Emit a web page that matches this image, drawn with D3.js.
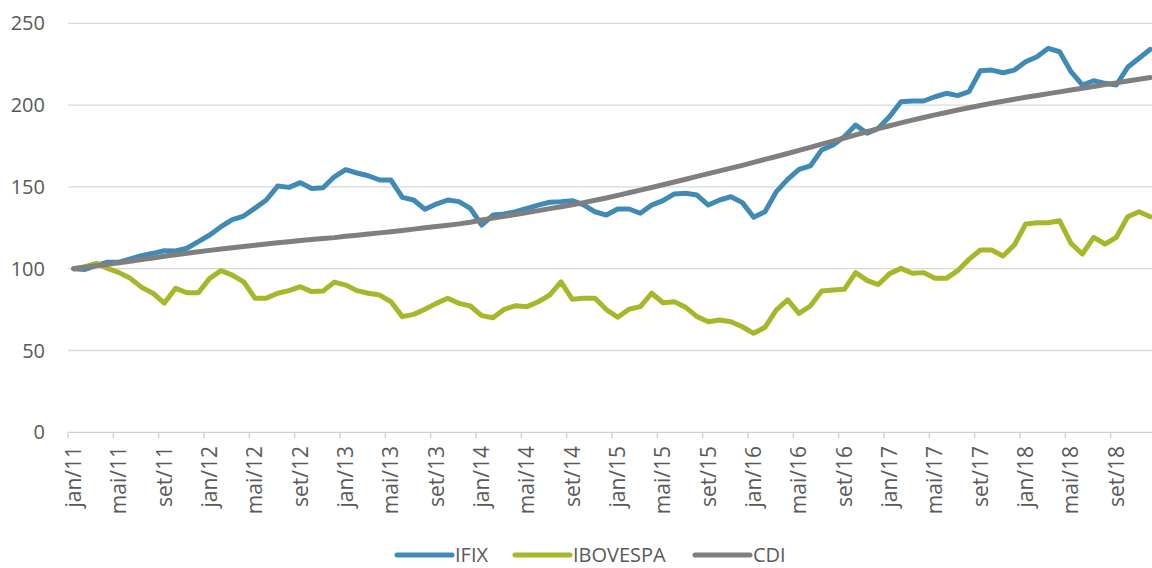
<!DOCTYPE html>
<html>
<head>
<meta charset="utf-8">
<script src="https://cdn.jsdelivr.net/npm/d3@7"></script>
<style>
  body { margin: 0; background: #fff; }
  svg { display: block; font-family: "Open Sans", "Noto Sans", sans-serif; }
</style>
</head>
<body>
<svg id="chart" width="1152" height="568"></svg>
<script>
const monthNames = ["jan", "fev", "mar", "abr", "mai", "jun", "jul", "ago", "set", "out", "nov", "dez"];
const years = ["11", "12", "13", "14", "15", "16", "17", "18"];
const yTicks = [0, 50, 100, 150, 200, 250];

const ifix = [
  100, 99.5, 102, 104, 104, 106, 108, 109.4, 111, 110.8, 112.5, 116.5,
  120.6, 125.7, 130, 132.2, 137, 142, 150.5, 149.7, 152.6, 149, 149.5, 156.2,
  160.5, 158.5, 156.8, 154.2, 154.2, 143.6, 142, 136.3, 139.5, 142, 141, 136.9,
  126.7, 132.8, 133.4, 134.8, 136.9, 138.9, 140.6, 141, 141.6, 139, 134.8, 132.8,
  136.5, 136.5, 133.9, 138.9, 141.6, 145.7, 146.1, 145, 138.9, 142, 144, 140.4,
  131.4, 134.8, 147.1, 154.6, 160.7, 162.8, 172.6, 175.6, 180.7, 187.8, 182.8, 185.8,
  193, 202, 202.5, 202.5, 205.1, 207.2, 205.8, 208.2, 221, 221.4, 219.8, 221.4,
  226.5, 229.6, 234.7, 232.6, 220.4, 212.3, 214.9, 213.3, 212.3, 223.1, 228.6, 234.1
];

const ibovespa = [
  100, 101.2, 103.3, 100.2, 97.6, 94.1, 88.6, 85, 79, 88, 85.3, 85.3,
  94.1, 98.8, 96.1, 92, 82, 82, 85, 86.6, 89, 86, 86.3, 91.8,
  90, 86.6, 85, 83.9, 79.8, 70.7, 72.1, 75.2, 78.8, 81.9, 78.8, 77.2,
  71.3, 70, 75.2, 77.4, 76.8, 79.8, 83.9, 92, 81.3, 81.9, 81.9, 75,
  70.3, 75.2, 76.8, 85, 79.2, 79.8, 76.4, 70.7, 67.6, 68.6, 67.6, 64.5,
  60.5, 64.2, 74.8, 80.9, 72.7, 77.2, 86.4, 87, 87.4, 97.6, 92.9, 90.3,
  97, 100.2, 97.2, 97.6, 94.1, 94.1, 98.8, 105.7, 111.4, 111.4, 107.8, 114.5,
  127.3, 128.1, 128.1, 129.3, 115.5, 109, 119.2, 115.1, 119.2, 131.8, 134.8, 131.8
];

const cdi = [
  100, 100.9, 101.8, 102.7, 103.6, 104.6, 105.6, 106.6, 107.6, 108.5, 109.4, 110.3,
  111.2, 112.0, 112.8, 113.6, 114.4, 115.1, 115.8, 116.5, 117.2, 117.8, 118.4, 119.0,
  119.8, 120.5, 121.2, 121.9, 122.6, 123.4, 124.2, 125.0, 125.8, 126.6, 127.4, 128.4,
  129.8, 130.9, 132.0, 133.1, 134.3, 135.5, 136.7, 137.9, 139.1, 140.4, 141.8, 143.2,
  144.8, 146.4, 148.0, 149.6, 151.3, 153.0, 154.7, 156.4, 158.1, 159.8, 161.5, 163.2,
  165.0, 166.8, 168.6, 170.4, 172.3, 174.2, 176.1, 178.0, 179.9, 181.8, 183.7, 185.6,
  187.4, 189.1, 190.8, 192.4, 194.0, 195.5, 197.0, 198.4, 199.8, 201.1, 202.4, 203.6,
  204.8, 205.9, 207.0, 208.1, 209.2, 210.3, 211.4, 212.5, 213.6, 214.7, 215.8, 216.9
];

const seriesNames = ["IFIX", "IBOVESPA", "CDI"];
const seriesColors = ["#3f8bb5", "#a6b82a", "#7f7f7f"];

const months = [];
years.forEach(yr => monthNames.forEach(m => months.push(m + "/" + yr)));

const svg = d3.select("#chart");
const plotLeft = 68, plotRight = 1156, plotTop = 23.3, plotBottom = 432.3;

const x = d3.scaleBand().domain(months).range([plotLeft, plotRight]).padding(0);
const y = d3.scaleLinear().domain([0, 250]).range([plotBottom, plotTop]);
const cx = m => x(m) + x.bandwidth() / 2;

// gridlines
svg.append("g")
  .selectAll("line")
  .data(yTicks.filter(t => t > 0))
  .enter().append("line")
  .attr("x1", plotLeft).attr("x2", plotRight)
  .attr("y1", d => y(d)).attr("y2", d => y(d))
  .attr("stroke", "#d9d9d9").attr("stroke-width", 1.3);

// y labels
svg.append("g")
  .selectAll("text")
  .data(yTicks)
  .enter().append("text")
  .attr("x", 45)
  .attr("y", d => y(d))
  .attr("dy", "0.35em")
  .attr("text-anchor", "end")
  .attr("font-size", 20)
  .attr("fill", "#595959")
  .text(d => d);

// x axis line and ticks
svg.append("line")
  .attr("x1", plotLeft).attr("x2", plotRight)
  .attr("y1", plotBottom).attr("y2", plotBottom)
  .attr("stroke", "#d0d0d0").attr("stroke-width", 1.3);

const tickMonths = months.filter((m, i) => i % 4 === 0);

svg.append("g")
  .selectAll("line")
  .data(tickMonths)
  .enter().append("line")
  .attr("x1", d => x(d)).attr("x2", d => x(d))
  .attr("y1", plotBottom).attr("y2", plotBottom + 6)
  .attr("stroke", "#d0d0d0").attr("stroke-width", 1.3);

svg.append("g")
  .selectAll("text")
  .data(tickMonths)
  .enter().append("text")
  .attr("transform", d => `translate(${cx(d)},446) rotate(-90)`)
  .attr("dy", "0.35em")
  .attr("text-anchor", "end")
  .attr("font-size", 21)
  .attr("fill", "#595959")
  .text(d => d);

// lines
const seriesData = [ifix, ibovespa, cdi];
const line = d3.line()
  .x((d, i) => cx(months[i]))
  .y(d => y(d));

svg.append("g")
  .selectAll("path")
  .data(seriesData)
  .enter().append("path")
  .attr("d", d => line(d))
  .attr("fill", "none")
  .attr("stroke", (d, i) => seriesColors[i])
  .attr("stroke-width", 5)
  .attr("stroke-linejoin", "round")
  .attr("stroke-linecap", "round");

// legend
const legendX = [397, 515, 695];
const legend = svg.append("g")
  .selectAll("g")
  .data(seriesNames)
  .enter().append("g")
  .attr("transform", (d, i) => `translate(${legendX[i]},555)`);

legend.append("line")
  .attr("x1", 0).attr("x2", 55)
  .attr("stroke", (d, i) => seriesColors[i])
  .attr("stroke-width", 5)
  .attr("stroke-linecap", "round");

legend.append("text")
  .attr("x", 58)
  .attr("dy", "0.35em")
  .attr("font-size", 20)
  .attr("fill", "#595959")
  .text(d => d);
</script>
</body>
</html>
